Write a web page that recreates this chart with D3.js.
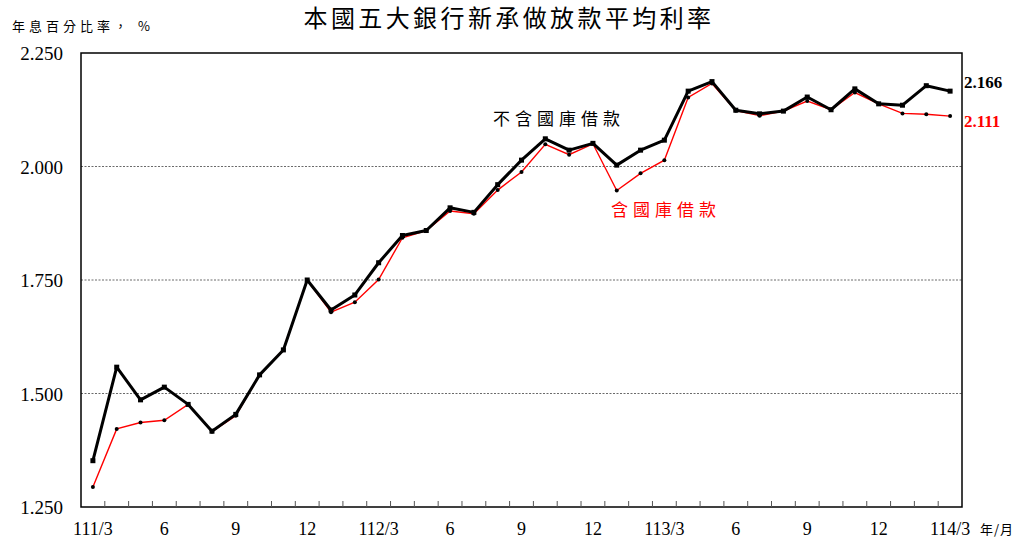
<!DOCTYPE html>
<html><head><meta charset="utf-8">
<script src="https://cdn.jsdelivr.net/npm/d3@7"></script>
<style>body{margin:0;background:#fff}svg{display:block}</style>
</head><body>
<svg id="c" width="1022" height="545"></svg>
<script>
const months = ["111/3","4","5","6","7","8","9","10","11","12","112/1","2","3","4","5","6","7","8","9","10","11","12","113/1","2","3","4","5","6","7","8","9","10","11","12","114/1","2","3"];
const tickLabels = ["111/3","6","9","12","112/3","6","9","12","113/3","6","9","12","114/3"];
const excl = [1.352,1.558,1.486,1.514,1.476,1.417,1.454,1.541,1.596,1.750,1.684,1.717,1.788,1.848,1.859,1.909,1.899,1.960,2.014,2.061,2.036,2.051,2.003,2.036,2.058,2.166,2.187,2.124,2.116,2.122,2.153,2.125,2.171,2.138,2.135,2.178,2.166];
const incl = [1.294,1.422,1.436,1.441,1.476,1.416,1.451,1.541,1.596,1.750,1.679,1.701,1.751,1.843,1.859,1.902,1.896,1.948,1.988,2.049,2.026,2.050,1.947,1.985,2.014,2.152,2.183,2.123,2.112,2.122,2.144,2.125,2.163,2.138,2.117,2.115,2.111];
const yTicks = [1.25,1.5,1.75,2.0,2.25];
const gridVals = [1.5,1.75,2.0];

const keys = months.map((m,i)=>i);
const labelIdx = tickLabels.map((t,j)=>j*3);

const svg = d3.select("#c");
const L=81, R=962, T=53, B=507;
const x = d3.scaleBand().domain(keys).range([L,R]).padding(0);
const y = d3.scaleLinear().domain([1.25,2.25]).range([B,T]);
const serif = "'Liberation Serif','Times New Roman',serif";
const cjk = "'Noto Sans CJK TC','Noto Sans CJK SC',sans-serif";

// grid
svg.append("g").selectAll("line").data(gridVals).join("line")
  .attr("x1",L).attr("x2",R).attr("y1",d=>y(d)).attr("y2",d=>y(d))
  .attr("stroke","#444").attr("stroke-width",0.8).attr("stroke-dasharray","2,1.5");

// frame
svg.append("rect").attr("x",L).attr("y",T).attr("width",R-L).attr("height",B-T)
  .attr("fill","none").attr("stroke","#000").attr("stroke-width",1.5);

// x ticks (inward)
svg.append("g").selectAll("line").data(keys.slice(1)).join("line")
  .attr("x1",d=>x(d)).attr("x2",d=>x(d)).attr("y1",B).attr("y2",B-6)
  .attr("stroke","#555").attr("stroke-width",1);

// x labels
svg.append("g").selectAll("text").data(labelIdx).join("text")
  .attr("x",d=>x(d)+x.bandwidth()/2).attr("y",535)
  .attr("text-anchor","middle").attr("font-family",serif).attr("font-size",18)
  .text((d,j)=>tickLabels[j]);
svg.append("text").attr("x",980).attr("y",534).attr("font-family",cjk).attr("font-size",13).attr("letter-spacing",1).text("年/月");

// y labels
svg.append("g").selectAll("text").data(yTicks).join("text")
  .attr("x",63).attr("y",d=>y(d)+7).attr("text-anchor","end")
  .attr("font-family",serif).attr("font-size",19).text(d=>d3.format(".3f")(d));

svg.append("text").attr("x",12).attr("y",31).attr("font-family",cjk).attr("font-size",13)
  .attr("letter-spacing",4).text("年息百分比率， %");

// title
svg.append("text").attr("x",509).attr("y",27).attr("text-anchor","middle")
  .attr("font-family",cjk).attr("font-size",24).attr("letter-spacing",3.4).text("本國五大銀行新承做放款平均利率");

const cx = i=>x(i)+x.bandwidth()/2;
const line = d3.line().x((d,i)=>cx(i)).y(d=>y(d));

// red series
svg.append("path").datum(incl).attr("d",line).attr("fill","none").attr("stroke","#ff0000").attr("stroke-width",1.4);
svg.append("g").selectAll("circle").data(incl).join("circle")
  .attr("cx",(d,i)=>cx(i)).attr("cy",d=>y(d)).attr("r",2).attr("fill","#000");

// black series
svg.append("path").datum(excl).attr("d",line).attr("fill","none").attr("stroke","#000").attr("stroke-width",3).attr("stroke-linejoin","round");
svg.append("g").selectAll("rect").data(excl).join("rect")
  .attr("x",(d,i)=>cx(i)-2.5).attr("y",d=>y(d)-2.5).attr("width",5).attr("height",5).attr("fill","#000");

// annotations
svg.append("text").attr("x",493).attr("y",125).attr("font-family",cjk).attr("font-size",17)
  .attr("letter-spacing",5).attr("fill","#000").text("不含國庫借款");
svg.append("text").attr("x",611).attr("y",216).attr("font-family",cjk).attr("font-size",17)
  .attr("letter-spacing",5).attr("fill","#ff0000").text("含國庫借款");

svg.append("text").attr("x",964).attr("y",88).attr("font-family",serif).attr("font-size",17).attr("font-weight","bold")
  .text(d3.format(".3f")(excl[excl.length-1]));
svg.append("text").attr("x",964).attr("y",127).attr("font-family",serif).attr("font-size",17).attr("font-weight","bold").attr("fill","#ff0000")
  .text(d3.format(".3f")(incl[incl.length-1]));
</script>
</body></html>
